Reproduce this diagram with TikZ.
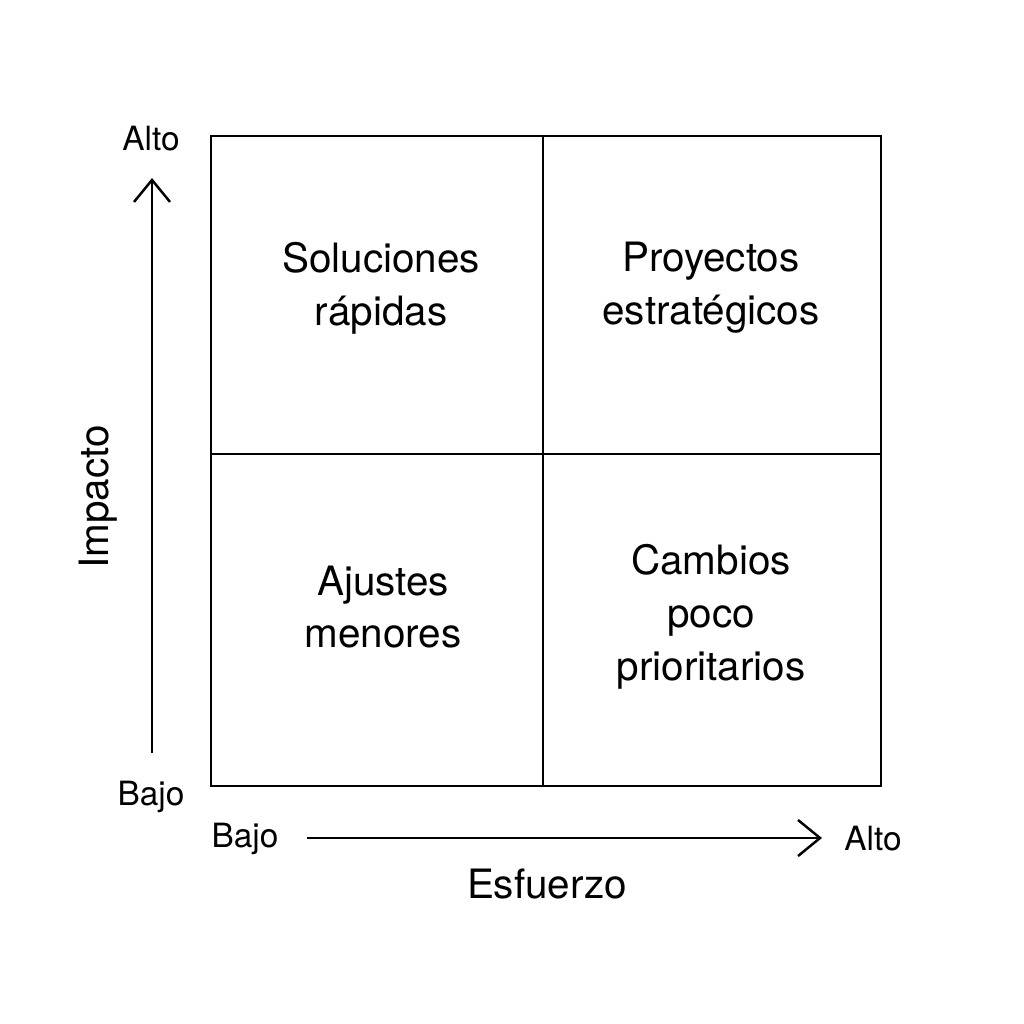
\documentclass[tikz,border=0pt]{standalone}
\usepackage{fontspec}
\setmainfont{TeX Gyre Heros}
\usetikzlibrary{arrows.meta,positioning}
\tikzset{
  quad/.style={font=\fontsize{11.5}{15}\selectfont, align=center},
  axislbl/.style={font=\fontsize{9.5}{11}\selectfont},
  axistitle/.style={font=\fontsize{11.5}{13}\selectfont},
  axisarrow/.style={line width=0.7pt, -{Straight Barb[length=2.2mm,width=3.6mm]}}
}
\begin{document}
\begin{tikzpicture}[x=0.01cm,y=-0.01cm]
\useasboundingbox (0,0) rectangle (1024,1024);

% matrix frame
\draw[line width=0.7pt] (211,136) rectangle (881,786);
\draw[line width=0.7pt] (543,136) -- (543,786);
\draw[line width=0.7pt] (211,454) -- (881,454);

% quadrants
\node[quad] (fast) at (381,288) {Soluciones\\rápidas};
\node[quad] (strat) at (711,288) {Proyectos\\estratégicos};
\node[quad] (minor) at (383,607) {Ajustes\\menores};
\node[quad] (low) at (711,617) {Cambios\\poco\\prioritarios};

% vertical axis
\node[axislbl] (yhi) at (151,139) {Alto};
\node[axislbl] (ylo) at (151,797) {Bajo};
\coordinate (ystart) at (152,753);
\coordinate (yend) at (152,178);
\draw[axisarrow] (ystart) -- (yend);
\node[axistitle, rotate=90] (ytitle) at (98,497) {Impacto};

% horizontal axis
\node[axislbl] (xlo) at (245,839) {Bajo};
\node[axislbl] (xhi) at (873,839) {Alto};
\coordinate (xstart) at (307,838);
\coordinate (xend) at (822,838);
\draw[axisarrow] (xstart) -- (xend);
\node[axistitle] (xtitle) at (547,884) {Esfuerzo};
\end{tikzpicture}
\end{document}
